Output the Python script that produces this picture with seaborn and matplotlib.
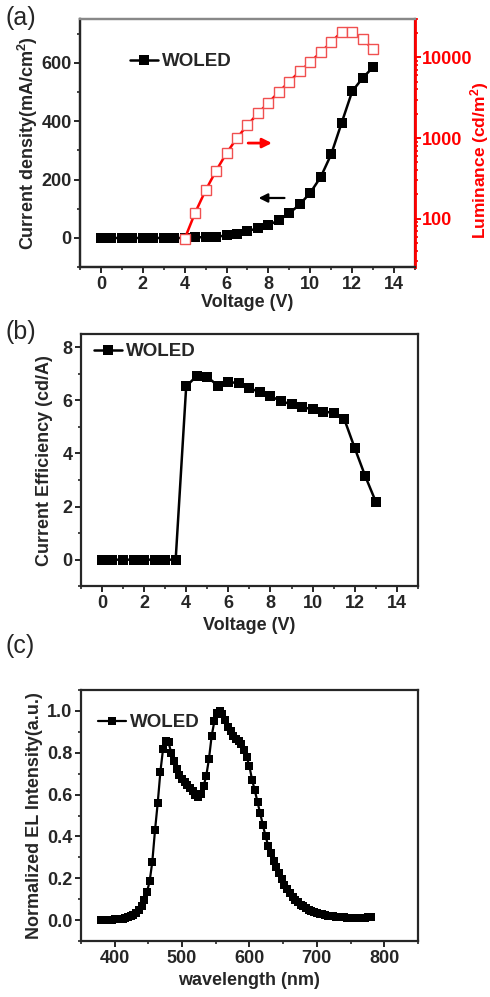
import matplotlib
matplotlib.use("Agg")
import matplotlib.pyplot as plt
import seaborn as sns
import pandas as pd
from matplotlib.ticker import MultipleLocator, LogLocator, NullFormatter, FixedLocator, FormatStrFormatter

# ---------------- data ----------------
voltage = [0, 0.5, 1, 1.5, 2, 2.5, 3, 3.5, 4, 4.5, 5, 5.5, 6, 6.5, 7, 7.5, 8, 8.5,
           9, 9.5, 10, 10.5, 11, 11.5, 12, 12.5, 13]
current_density = [0, 0, 0, 0, 0, 0, 0, 0, 0, 2, 3, 4, 9, 15, 24, 33, 44, 61,
                   85, 115, 155, 209, 287, 395, 502, 548, 585]
lum_voltage = [4, 4.5, 5, 5.5, 6, 6.5, 7, 7.5, 8, 8.5, 9, 9.5, 10, 10.5, 11,
               11.5, 12, 12.5, 13]
luminance = [56, 118, 224, 392, 649, 1000, 1450, 2020, 2740, 3730, 5020, 6700,
             8780, 11600, 15400, 20900, 20900, 16900, 12600]
efficiency = [0, 0, 0, 0, 0, 0, 0, 0, 6.53, 6.92, 6.89, 6.55, 6.69, 6.65, 6.46,
              6.31, 6.16, 5.97, 5.85, 5.75, 5.66, 5.58, 5.53, 5.30, 4.20, 3.14, 2.18]
wavelength = [380, 384, 388, 392, 396, 400, 404, 408, 412, 416, 420, 424, 428, 432,
              436, 440, 444, 448, 452, 456, 460, 464, 468, 472, 476, 480, 484, 488,
              492, 496, 500, 504, 508, 512, 516, 520, 524, 528, 532, 536, 540, 544,
              548, 552, 556, 560, 564, 568, 572, 576, 580, 584, 588, 592, 596, 600,
              604, 608, 612, 616, 620, 624, 628, 632, 636, 640, 644, 648, 652, 656,
              660, 664, 668, 672, 676, 680, 684, 688, 692, 696, 700, 704, 708, 712,
              716, 720, 724, 728, 732, 736, 740, 744, 748, 752, 756, 760, 764, 768,
              772, 776, 780]
el_intensity = [0.002, 0.002, 0.002, 0.003, 0.003, 0.004, 0.005, 0.006, 0.008, 0.011,
                0.015, 0.020, 0.027, 0.036, 0.050, 0.068, 0.095, 0.135, 0.185, 0.28,
                0.43, 0.56, 0.71, 0.82, 0.855, 0.85, 0.80, 0.76, 0.72, 0.695,
                0.675, 0.66, 0.645, 0.63, 0.615, 0.60, 0.59, 0.605, 0.64, 0.69,
                0.77, 0.88, 0.95, 0.99, 1.0, 0.985, 0.955, 0.925, 0.905, 0.88,
                0.865, 0.855, 0.84, 0.815, 0.78, 0.735, 0.67, 0.62, 0.565, 0.51,
                0.455, 0.40, 0.355, 0.32, 0.285, 0.255, 0.225, 0.195, 0.17, 0.15,
                0.13, 0.113, 0.098, 0.085, 0.075, 0.066, 0.058, 0.051, 0.045, 0.040,
                0.035, 0.031, 0.028, 0.025, 0.022, 0.020, 0.019, 0.017, 0.016, 0.015,
                0.014, 0.013, 0.012, 0.012, 0.011, 0.011, 0.012, 0.012, 0.013, 0.014,
                0.015]

# ---------------- style ----------------
sns.set_style("ticks")
plt.rcParams['font.family'] = ['Liberation Sans', 'DejaVu Sans']
plt.rcParams['font.weight'] = 'bold'
plt.rcParams['axes.labelweight'] = 'bold'
plt.rcParams['mathtext.fontset'] = 'custom'
plt.rcParams['mathtext.rm'] = 'Liberation Sans:bold'
plt.rcParams['mathtext.bf'] = 'Liberation Sans:bold'
plt.rcParams['mathtext.it'] = 'Liberation Sans:bold'
plt.rcParams['axes.linewidth'] = 1.6
plt.rcParams['xtick.major.width'] = 1.4
plt.rcParams['ytick.major.width'] = 1.4
plt.rcParams['xtick.minor.width'] = 1.2
plt.rcParams['ytick.minor.width'] = 1.2
plt.rcParams['xtick.major.size'] = 4
plt.rcParams['ytick.major.size'] = 4
plt.rcParams['xtick.minor.size'] = 2.5
plt.rcParams['ytick.minor.size'] = 2.5
plt.rcParams['xtick.direction'] = 'out'
plt.rcParams['ytick.direction'] = 'out'

TICK_FS = 13
LABEL_FS = 13
LEG_FS = 13.5
PANEL_FS = 18

fig = plt.figure(figsize=(4.9, 9.97), dpi=100)
ax_a = fig.add_axes([0.163, 0.732, 0.684, 0.249])
ax_b = fig.add_axes([0.165, 0.412, 0.688, 0.253])
ax_c = fig.add_axes([0.165, 0.056, 0.688, 0.252])

df_j = pd.DataFrame({"V": voltage, "J": current_density, "CE": efficiency})
df_l = pd.DataFrame({"V": lum_voltage, "L": luminance})
df_s = pd.DataFrame({"wl": wavelength, "I": el_intensity})


def bold_ticks(ax):
    for lab in ax.get_xticklabels() + ax.get_yticklabels():
        lab.set_fontweight('bold')


# ---------------- panel (a) ----------------
sns.lineplot(data=df_j, x="V", y="J", ax=ax_a, color="black", marker="s",
             markersize=7, markeredgewidth=0, linewidth=1.8, label="WOLED")
ax_a.set_xlim(-1, 15)
ax_a.set_ylim(-100, 750)
ax_a.xaxis.set_major_locator(MultipleLocator(2))
ax_a.xaxis.set_minor_locator(MultipleLocator(1))
ax_a.yaxis.set_major_locator(FixedLocator([0, 200, 400, 600]))
ax_a.yaxis.set_minor_locator(MultipleLocator(100))
ax_a.set_xlabel("Voltage (V)", fontsize=LABEL_FS, labelpad=1)
ax_a.set_ylabel(r"Current density(mA/cm$^{2}$)", fontsize=LABEL_FS, labelpad=1)
ax_a.tick_params(labelsize=TICK_FS, pad=2)
bold_ticks(ax_a)
ax_a.spines['top'].set_color('#888888')
ax_a.legend(loc="upper left", bbox_to_anchor=(0.1, 0.93), frameon=False,
            handlelength=1.5, handletextpad=0.2,
            prop={'weight': 'bold', 'size': LEG_FS})

ax_a2 = ax_a.twinx()
sns.lineplot(data=df_l, x="V", y="L", ax=ax_a2, color="red", marker="s",
             markersize=7, markerfacecolor="white", markeredgecolor="#f05050",
             markeredgewidth=1.0, linewidth=1.8, legend=False)
ax_a2.set_yscale("log")
ax_a2.set_ylim(25, 30000)
ax_a2.yaxis.set_major_locator(FixedLocator([100, 1000, 10000]))
ax_a2.yaxis.set_minor_locator(LogLocator(base=10, subs=range(2, 10)))
ax_a2.yaxis.set_minor_formatter(NullFormatter())
ax_a2.set_yticklabels(["100", "1000", "10000"])
ax_a2.set_ylabel("")
ax_a2.tick_params(axis='y', which='both', colors='red', labelsize=TICK_FS, pad=1)
for lab in ax_a2.get_yticklabels():
    lab.set_fontweight('bold')
ax_a2.spines['right'].set_color('red')
ax_a2.spines['right'].set_linewidth(2.0)
ax_a2.spines['top'].set_color('#888888')
ax_a2.set_xlabel("")
fig.text(480 / 490, 1 - 160 / 997, r"Luminance (cd/m$^{2}$)", color="red",
         fontsize=12.5, fontweight='bold', rotation=90, ha='center', va='center')

ax_a.annotate("", xy=(8.3, 325), xytext=(6.9, 325),
              arrowprops=dict(arrowstyle="-|>", color="red", lw=2.0,
                              mutation_scale=14))
ax_a.annotate("", xy=(7.4, 137), xytext=(8.9, 137),
              arrowprops=dict(arrowstyle="-|>", color="black", lw=1.6,
                              mutation_scale=13))

fig.text(0.012, 0.982, "(a)", fontsize=PANEL_FS, fontweight='normal', va='center')

# ---------------- panel (b) ----------------
sns.lineplot(data=df_j, x="V", y="CE", ax=ax_b, color="black", marker="s",
             markersize=7, markeredgewidth=0, linewidth=1.8, label="WOLED")
ax_b.set_xlim(-1, 15)
ax_b.set_ylim(-1, 8.5)
ax_b.xaxis.set_major_locator(MultipleLocator(2))
ax_b.xaxis.set_minor_locator(MultipleLocator(1))
ax_b.yaxis.set_major_locator(MultipleLocator(2))
ax_b.yaxis.set_minor_locator(MultipleLocator(1))
ax_b.set_xlabel("Voltage (V)", fontsize=LABEL_FS, labelpad=4)
ax_b.set_ylabel("Current Efficiency (cd/A)", fontsize=LABEL_FS, labelpad=7)
ax_b.tick_params(labelsize=TICK_FS, pad=2)
bold_ticks(ax_b)
ax_b.legend(loc="upper left", bbox_to_anchor=(-0.01, 1.03), frameon=False,
            handlelength=1.5, handletextpad=0.2,
            prop={'weight': 'bold', 'size': LEG_FS})
fig.text(0.012, 0.667, "(b)", fontsize=PANEL_FS, fontweight='normal', va='center')

# ---------------- panel (c) ----------------
sns.lineplot(data=df_s, x="wl", y="I", ax=ax_c, color="black", marker="s",
             markersize=6, markeredgewidth=0, linewidth=1.6, label="WOLED")
ax_c.set_xlim(350, 850)
ax_c.set_ylim(-0.1, 1.1)
ax_c.xaxis.set_major_locator(MultipleLocator(100))
ax_c.xaxis.set_minor_locator(MultipleLocator(50))
ax_c.yaxis.set_major_locator(MultipleLocator(0.2))
ax_c.yaxis.set_minor_locator(MultipleLocator(0.1))
ax_c.yaxis.set_major_formatter(FormatStrFormatter('%.1f'))
ax_c.set_xlabel("wavelength (nm)", fontsize=LABEL_FS, labelpad=4)
ax_c.set_ylabel("Normalized EL Intensity(a.u.)", fontsize=LABEL_FS, labelpad=3)
ax_c.tick_params(labelsize=TICK_FS, pad=2)
bold_ticks(ax_c)
ax_c.legend(loc="upper left", bbox_to_anchor=(0.0, 0.97), frameon=False,
            handlelength=1.5, handletextpad=0.2,
            prop={'weight': 'bold', 'size': LEG_FS})
fig.text(0.012, 0.352, "(c)", fontsize=PANEL_FS, fontweight='normal', va='center')

fig.savefig("out.png", dpi=100)
